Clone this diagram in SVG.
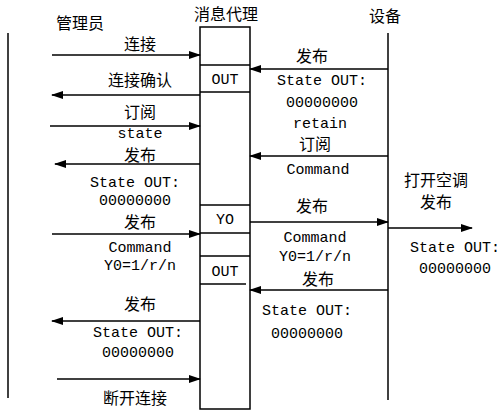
<svg xmlns="http://www.w3.org/2000/svg" width="500" height="410" viewBox="0 0 500 410">
<defs>
<marker id="ah" markerWidth="12" markerHeight="8" refX="11" refY="4" orient="auto" markerUnits="userSpaceOnUse">
<path d="M0,0 L12,4 L0,8 z" fill="#000"/>
</marker>
<style>
.ln{stroke:#000;stroke-width:1.5;fill:none}
.ar{stroke:#000;stroke-width:1.5;fill:none;marker-end:url(#ah)}
.cn{font-family:"Noto Sans CJK SC",sans-serif;font-size:16px;fill:#000;text-anchor:middle}
.lt{font-family:"Liberation Mono",monospace;font-size:15px;fill:#000;text-anchor:middle}
</style>
</defs>
<rect width="500" height="410" fill="#fff"/>
<g id="admin">
<line class="ln" x1="8" y1="33" x2="8" y2="398"/>
<text class="cn" x="80" y="29">管理员</text>
</g>
<g id="broker">
<text class="cn" x="226" y="20">消息代理</text>
<rect class="ln" x="200" y="27" width="50" height="382"/>
<line class="ln" x1="200" y1="65" x2="250" y2="65"/>
<line class="ln" x1="200" y1="92" x2="250" y2="92"/>
<text class="lt" x="225" y="84">OUT</text>
<line class="ln" x1="200" y1="205" x2="250" y2="205"/>
<line class="ln" x1="200" y1="233" x2="250" y2="233"/>
<text class="lt" x="225" y="224">YO</text>
<line class="ln" x1="200" y1="256" x2="250" y2="256"/>
<line class="ln" x1="200" y1="284" x2="246" y2="284"/>
<text class="lt" x="225" y="276">OUT</text>
</g>
<g id="device">
<line class="ln" x1="388" y1="33" x2="388" y2="400"/>
<text class="cn" x="385" y="22">设备</text>
</g>
<g id="connectors">
<line class="ar" x1="52" y1="55" x2="200" y2="55"/>
<line class="ar" x1="200" y1="95" x2="52" y2="95"/>
<line class="ar" x1="50" y1="126" x2="200" y2="126"/>
<line class="ar" x1="200" y1="164" x2="55" y2="164"/>
<line class="ar" x1="52" y1="234" x2="200" y2="234"/>
<line class="ar" x1="200" y1="321" x2="52" y2="321"/>
<line class="ar" x1="57" y1="379" x2="200" y2="379"/>
<line class="ar" x1="388" y1="69" x2="250" y2="69"/>
<line class="ar" x1="388" y1="156" x2="250" y2="156"/>
<line class="ar" x1="250" y1="222" x2="388" y2="222"/>
<line class="ar" x1="388" y1="290" x2="250" y2="290"/>
<line class="ar" x1="388" y1="228" x2="472" y2="228"/>
</g>
<g id="labels">
<text class="cn" x="140" y="50">连接</text>
<text class="cn" x="140" y="86">连接确认</text>
<text class="cn" x="140" y="118">订阅</text>
<text class="lt" x="140" y="138">state</text>
<text class="cn" x="140" y="161">发布</text>
<text class="lt" x="135" y="187">State OUT:</text>
<text class="lt" x="135" y="205">00000000</text>
<text class="cn" x="140" y="228">发布</text>
<text class="lt" x="140" y="252">Command</text>
<text class="lt" x="140" y="270">Y0=1/r/n</text>
<text class="cn" x="140" y="310">发布</text>
<text class="lt" x="138" y="337">State OUT:</text>
<text class="lt" x="138" y="357">00000000</text>
<text class="cn" x="135" y="404">断开连接</text>
<text class="cn" x="312" y="62">发布</text>
<text class="lt" x="322" y="85">State OUT:</text>
<text class="lt" x="322" y="107">00000000</text>
<text class="lt" x="320" y="128">retain</text>
<text class="cn" x="315" y="150">订阅</text>
<text class="lt" x="318" y="174">Command</text>
<text class="cn" x="312" y="212">发布</text>
<text class="lt" x="315" y="242">Command</text>
<text class="lt" x="315" y="261">Y0=1/r/n</text>
<text class="cn" x="318" y="285">发布</text>
<text class="lt" x="307" y="315">State OUT:</text>
<text class="lt" x="307" y="338">00000000</text>
<text class="cn" x="436" y="186">打开空调</text>
<text class="cn" x="436" y="208">发布</text>
<text class="lt" x="455" y="252">State OUT:</text>
<text class="lt" x="455" y="273">00000000</text>
</g>
</svg>
